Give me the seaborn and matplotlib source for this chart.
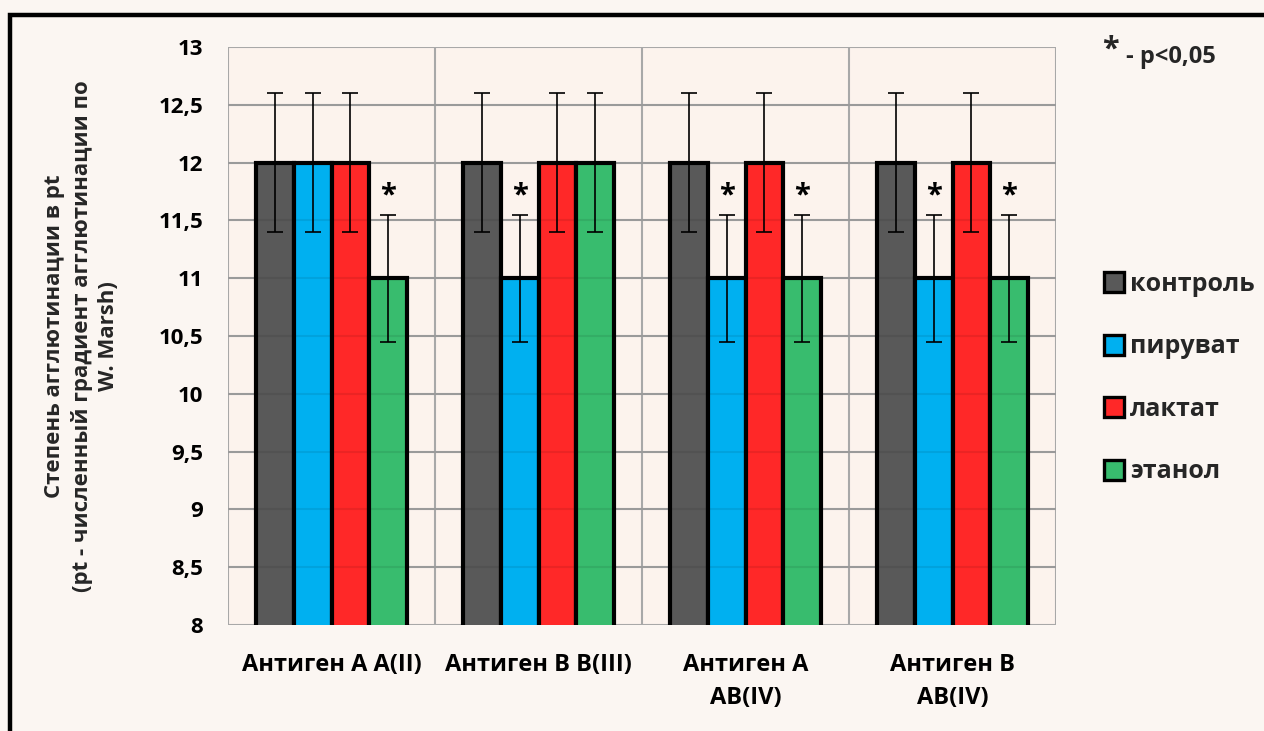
import matplotlib
matplotlib.use("Agg")
import matplotlib.pyplot as plt
import seaborn as sns
import pandas as pd
import numpy as np
from matplotlib.patches import Rectangle
from matplotlib.lines import Line2D

# Data
groups = ["Антиген А А(II)", "Антиген В В(III)", "Антиген А\nAB(IV)", "Антиген В\nAB(IV)"]
series = ["контроль", "пируват", "лактат", "этанол"]
control = [12, 12, 12, 12]
pyruvate = [12, 11, 11, 11]
lactate = [12, 12, 12, 12]
ethanol = [11, 12, 11, 11]
err_control = [0.6, 0.6, 0.6, 0.6]
err_pyruvate = [0.6, 0.55, 0.55, 0.55]
err_lactate = [0.6, 0.6, 0.6, 0.6]
err_ethanol = [0.55, 0.6, 0.55, 0.55]
# significance marks (p<0,05)
sig_control = [False, False, False, False]
sig_pyruvate = [False, True, True, True]
sig_lactate = [False, False, False, False]
sig_ethanol = [True, False, True, True]
yticks = [8, 8.5, 9, 9.5, 10, 10.5, 11, 11.5, 12, 12.5, 13]
ytick_labels = ["8", "8,5", "9", "9,5", "10", "10,5", "11", "11,5", "12", "12,5", "13"]
colors = ["#595959", "#00B0F0", "#FF2828", "#38BC6E"]

values = [control, pyruvate, lactate, ethanol]
errors = [err_control, err_pyruvate, err_lactate, err_ethanol]
sigs = [sig_control, sig_pyruvate, sig_lactate, sig_ethanol]

rows = []
for s, vals, errs, sg in zip(series, values, errors, sigs):
    for g, v, e, m in zip(groups, vals, errs, sg):
        rows.append({"group": g, "series": s, "value": v, "err": e, "sig": m})
df = pd.DataFrame(rows)

sns.set_theme(style="white")
FONT = ["Open Sans", "DejaVu Sans"]
plt.rcParams["font.family"] = FONT
plt.rcParams["font.weight"] = "bold"

fig_bg = "#FBF6F2"
ax_bg = "#FCF3ED"
fig = plt.figure(figsize=(12.64, 7.31), dpi=100, facecolor=fig_bg)
ax = fig.add_axes([228 / 1264, 1 - 625 / 731, (1056 - 228) / 1264, (625 - 47) / 731])
ax.set_facecolor(ax_bg)

sns.barplot(data=df, x="group", y="value", hue="series", order=groups,
            hue_order=series, palette=colors, width=0.73, saturation=1,
            edgecolor="black", linewidth=3, errorbar=None, ax=ax, legend=False,
            zorder=2)

# error bars and significance marks from the bar geometry
bars = ax.patches
n_g = len(groups)
for si, s in enumerate(series):
    for gi in range(n_g):
        bar = bars[si * n_g + gi]
        cx = bar.get_x() + bar.get_width() / 2
        v = values[si][gi]
        e = errors[si][gi]
        ax.errorbar(cx, v, yerr=e, fmt="none", ecolor="black", elinewidth=1.2,
                    capsize=6, capthick=1.2, zorder=4)
        if sigs[si][gi]:
            ax.text(cx, v + e + 0.04, "*", ha="center", va="bottom",
                    fontsize=21, fontweight="bold", color="black", zorder=5)

# faint grid lines showing through the bars
for y in yticks[1:-1]:
    ax.axhline(y, color="#000000", alpha=0.08, linewidth=1.5, zorder=3)

ax.set_ylim(8, 13)
ax.set_xlim(-0.5, n_g - 0.5)
ax.set_yticks(yticks)
ax.set_yticklabels(ytick_labels, fontsize=16, fontweight="bold")
ax.set_xticks(range(n_g))
ax.set_xticklabels(groups, fontsize=17, fontweight="bold", linespacing=1.5)
ax.set_xticks(np.arange(-0.5, n_g, 1.0), minor=True)
ax.tick_params(axis="y", length=0, pad=18, colors="black")
ax.tick_params(axis="x", which="both", length=0, pad=20, colors="black")
ax.grid(axis="y", which="major", color="#A8A8A8", linewidth=1.5, zorder=1)
ax.grid(axis="x", which="minor", color="#A8A8A8", linewidth=1.5, zorder=1)
ax.grid(axis="x", which="major", visible=False)
ax.set_axisbelow(True)
for sp in ax.spines.values():
    sp.set_visible(False)

ax.set_xlabel("")
ax.set_ylabel("Степень агглютинации в pt\n(pt - численный градиент агглютинации по\nW. Marsh)",
              fontsize=16, fontweight="bold", linespacing=1.35, labelpad=28)

# legend
handles = [Line2D([0], [0], marker="s", linestyle="none", markersize=15,
                  markerfacecolor=c, markeredgecolor="black", markeredgewidth=2.4)
           for c in colors]
fig.legend(handles, series, loc="center left", bbox_to_anchor=(1091 / 1264, 1 - 378 / 731),
           frameon=False, prop={"family": FONT, "weight": "bold", "size": 18},
           labelspacing=1.5, handletextpad=0.15, handlelength=1.0, borderaxespad=0)

# significance note
fig.text(1102 / 1264, 1 - 50 / 731, "*", fontsize=22, fontweight="bold", ha="left", va="center")
fig.text(1126 / 1264, 1 - 57 / 731, "- p<0,05", fontsize=17, fontweight="bold", ha="left", va="center")

# outer frame
fig.patches.append(Rectangle((10 / 1264, -0.1), 1.2, 1 - 15 / 731 + 0.1,
                             transform=fig.transFigure, fill=False,
                             edgecolor="black", linewidth=3.2, zorder=0))

fig.savefig("out.png", dpi=100, facecolor=fig_bg)
